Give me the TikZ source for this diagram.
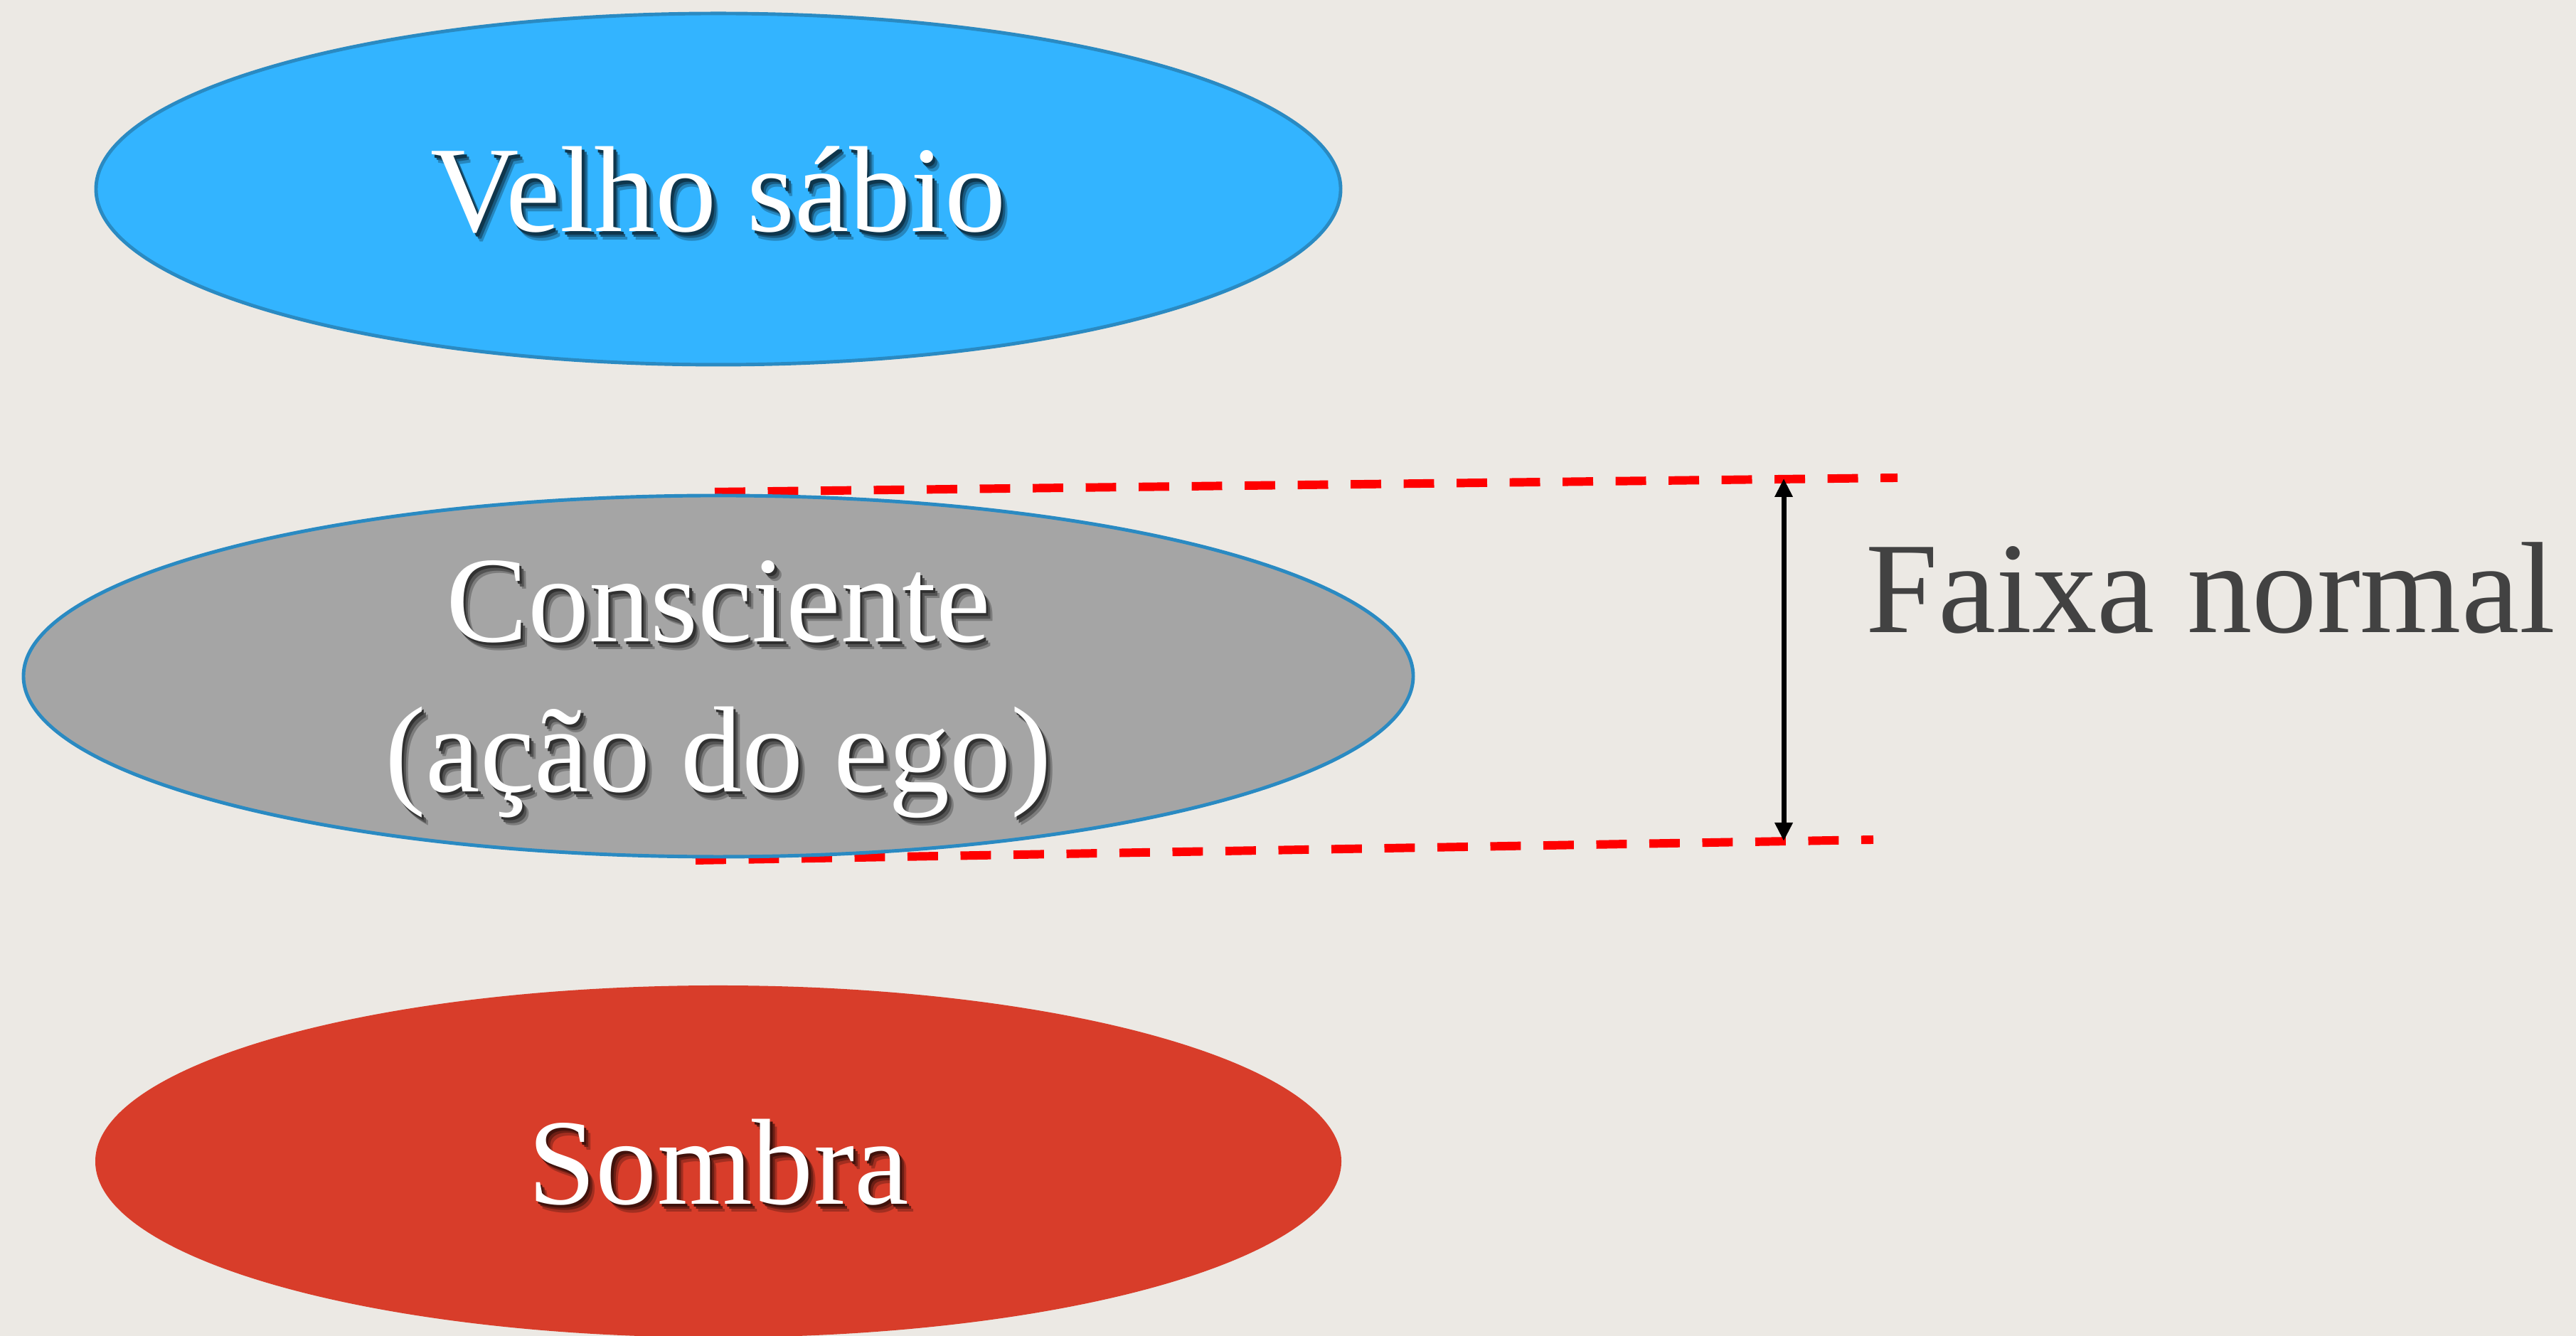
\documentclass[tikz,border=0pt]{standalone}
\usepackage{fontspec}
\setmainfont{Liberation Serif}
\usepackage{xcolor}
\usepackage{tikz}
\usetikzlibrary{shapes.geometric}
\usetikzlibrary{arrows.meta}

\definecolor{paper}{HTML}{ECE9E4}
\definecolor{skyfill}{HTML}{33B4FF}
\definecolor{rimblue}{HTML}{2A8AC2}
\definecolor{greyfill}{HTML}{A5A5A5}
\definecolor{shadowred}{HTML}{D83D2A}
\definecolor{labelgrey}{HTML}{424242}

% white text with a soft drop shadow, #1 = colour under it
\newcommand{\shtext}[2]{\leavevmode%
	\rlap{\kern1.3pt\raisebox{-1.6pt}{\color{black!25!#1}#2}}%
	\rlap{\kern0.9pt\raisebox{-1.1pt}{\color{black!50!#1}#2}}%
	\rlap{\kern0.5pt\raisebox{-0.6pt}{\color{black!70!#1}#2}}#2}

\begin{document}
\begin{tikzpicture}[>={Triangle[length=0.13cm,width=0.12cm]},
	arch node/.style={ellipse,inner sep=0pt,text=white,align=center,text depth=0pt,
		font=\fontsize{24.5}{30}\selectfont,line width=0.7pt},
	band line/.style={red,line width=1.7pt,dash pattern=on 6.1pt off 4.5pt}]
	
	\fill[paper] (0,0) rectangle (18.11,9.395);
	\useasboundingbox (0,0) rectangle (18.11,9.395);
	
	\coordinate (topL) at (5.025,5.935);
	\coordinate (topR) at (13.34,6.035);
	\coordinate (botL) at (4.89,3.345);
	\coordinate (botR) at (13.17,3.49);
	\coordinate (aTop) at (12.54,6.03);
	\coordinate (aBot) at (12.54,3.48);
	
	\draw[band line] (topL) -- (topR);
	\draw[band line] (botL) -- (botR);
	
	\node[arch node, fill=skyfill, draw=rimblue, minimum width=8.75cm, minimum height=2.47cm] (sabio) at (5.05,8.065) {\shtext{skyfill}{Velho sábio}};
	\node[arch node, fill=greyfill, draw=rimblue, minimum width=9.77cm, minimum height=2.54cm] (consc) at (5.05,4.64) {\shtext{greyfill}{Consciente}\\\shtext{greyfill}{(ação do ego)}};
	\node[arch node, fill=shadowred, minimum width=8.76cm, minimum height=2.475cm] (sombra) at (5.05,1.2275) {\shtext{shadowred}{Sombra}};
	
	\draw[<->, line width=1pt] (aBot) -- (aTop);
	\node[anchor=base west, text=labelgrey, font=\fontsize{26}{30}\selectfont, inner sep=0pt] (faixa) at (13.11,4.945) {Faixa normal};
	
\end{tikzpicture}
\end{document}
